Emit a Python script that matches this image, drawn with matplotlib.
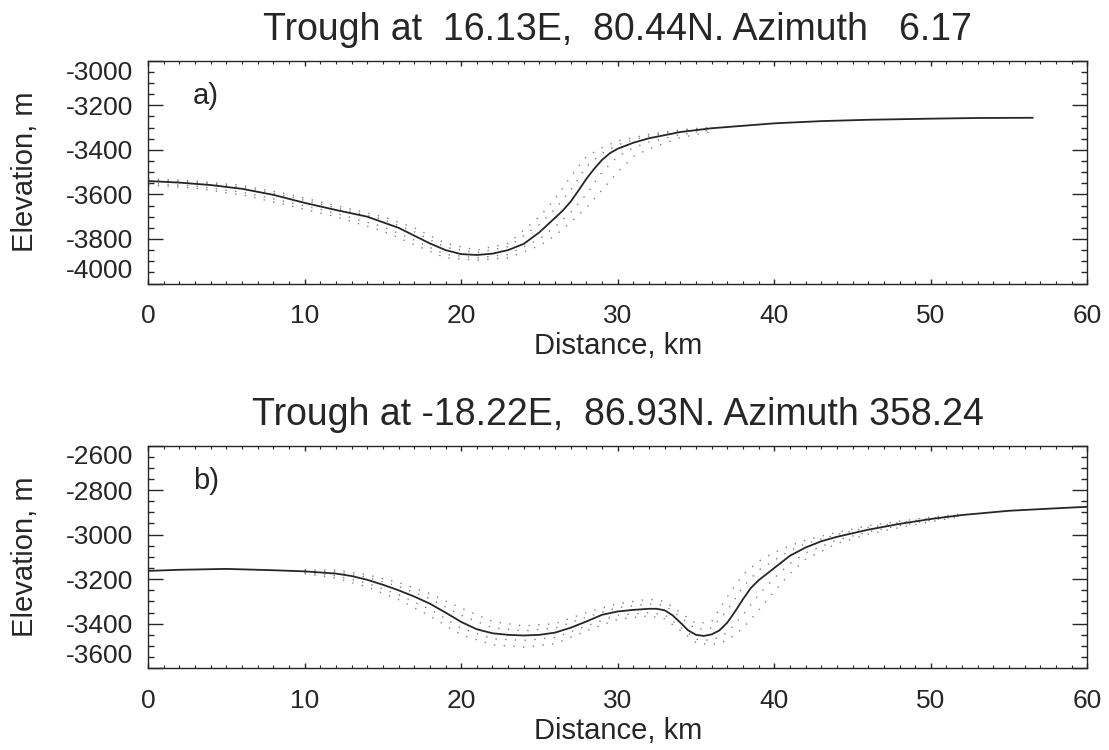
import matplotlib
matplotlib.use("Agg")
import matplotlib.pyplot as plt
from matplotlib.ticker import MultipleLocator

plt.rcParams['font.family'] = ['Liberation Sans', 'DejaVu Sans']
plt.rcParams['axes.unicode_minus'] = False

# panel a) trough at 16.13E, 80.44N -- central profile
dist_a = [0, 2, 4, 6, 8, 10, 12, 14, 16, 17, 18, 19, 20, 21, 22, 23, 24, 25, 26, 26.5,
          27, 27.5, 28, 28.5, 29, 29.5, 30, 31, 32, 34, 36, 38, 40, 43, 46, 50, 53, 56.5]
elev_a = [-3540, -3547, -3558, -3575, -3602, -3638, -3670, -3700, -3750, -3785, -3820,
          -3850, -3868, -3872, -3866, -3850, -3822, -3770, -3705, -3672,
          -3632, -3582, -3530, -3485, -3445, -3415, -3395, -3368, -3348, -3320, -3303,
          -3292, -3281, -3271, -3265, -3260, -3257, -3256]

# neighbouring parallel profiles (dotted)
dist_a_side = [0, 3, 6, 9, 12, 15, 17, 19, 21, 23, 25, 26, 27, 28, 29, 30, 31, 32, 34, 36]
side_a1 = [-3530, -3540, -3560, -3600, -3650, -3700, -3750, -3820, -3850, -3820, -3700,
           -3620, -3520, -3430, -3390, -3360, -3345, -3330, -3310, -3298]
side_a2 = [-3536, -3546, -3568, -3610, -3660, -3712, -3768, -3838, -3862, -3835, -3735,
           -3665, -3580, -3475, -3415, -3378, -3355, -3338, -3315, -3300]
side_a3 = [-3550, -3562, -3590, -3635, -3685, -3745, -3805, -3870, -3885, -3870, -3800,
           -3745, -3680, -3600, -3500, -3430, -3390, -3365, -3332, -3310]
side_a4 = [-3558, -3572, -3602, -3650, -3700, -3765, -3825, -3885, -3895, -3885, -3830,
           -3785, -3725, -3660, -3580, -3500, -3430, -3395, -3345, -3318]

# panel b) trough at -18.22E, 86.93N -- central profile
dist_b = [0, 2, 5, 8, 10, 12, 13, 14, 15, 16, 17, 18, 19, 20, 21, 22, 23, 24, 25, 26, 27,
          28, 29, 30, 31, 32, 32.5, 33, 33.5, 34, 34.5, 35, 35.5, 36, 36.5, 37, 37.5, 38,
          38.5, 39, 40, 41, 42, 43, 44, 46, 48, 50, 52, 55, 58, 60]
elev_b = [-3163, -3158, -3154, -3160, -3165, -3175, -3186, -3203, -3225, -3250, -3278,
          -3310, -3350, -3392, -3425, -3443, -3450, -3453, -3450, -3440, -3418, -3390,
          -3360, -3345, -3338, -3333, -3333, -3340, -3362, -3395, -3430, -3450, -3455,
          -3448, -3430, -3395, -3345, -3290, -3240, -3205, -3150, -3095, -3058, -3030,
          -3010, -2978, -2952, -2930, -2912, -2893, -2882, -2875]

dist_b_side = [10, 12, 14, 16, 18, 20, 22, 24, 26, 28, 30, 32, 33, 34, 35, 36, 37, 38, 39,
               40, 41, 42, 44, 46, 48, 50, 52]
side_b1 = [-3158, -3160, -3180, -3215, -3265, -3330, -3390, -3410, -3400, -3350, -3310,
           -3290, -3300, -3350, -3400, -3390, -3280, -3180, -3120, -3080, -3050, -3025,
           -2990, -2960, -2940, -2922, -2908]
side_b2 = [-3162, -3168, -3192, -3232, -3288, -3362, -3418, -3432, -3420, -3370, -3328,
           -3312, -3318, -3370, -3425, -3420, -3340, -3235, -3160, -3115, -3072, -3040,
           -3000, -2968, -2946, -2926, -2910]
side_b3 = [-3170, -3185, -3218, -3270, -3335, -3420, -3468, -3475, -3462, -3410, -3362,
           -3350, -3360, -3415, -3470, -3475, -3440, -3360, -3270, -3195, -3130, -3082,
           -3025, -2988, -2960, -2936, -2915]
side_b4 = [-3175, -3195, -3235, -3292, -3365, -3450, -3495, -3505, -3490, -3432, -3380,
           -3365, -3378, -3430, -3485, -3495, -3475, -3420, -3340, -3255, -3175, -3110,
           -3040, -2998, -2968, -2942, -2918]

titles = ["Trough at  16.13E,  80.44N. Azimuth   6.17",
          "Trough at -18.22E,  86.93N. Azimuth 358.24"]
panel_tags = ["a)", "b)"]
yticks_a = [-4000, -3800, -3600, -3400, -3200, -3000]
yticks_b = [-3600, -3400, -3200, -3000, -2800, -2600]
xticks = [0, 10, 20, 30, 40, 50, 60]

ink = '#262626'

fig = plt.figure(figsize=(11.09, 7.5), dpi=100)
ax_a = fig.add_axes([0.1335, 0.622, 0.847, 0.297])
ax_b = fig.add_axes([0.1335, 0.109, 0.847, 0.297])

panels = [
    (ax_a, dist_a, elev_a, dist_a_side, [side_a1, side_a2, side_a3, side_a4], yticks_a),
    (ax_b, dist_b, elev_b, dist_b_side, [side_b1, side_b2, side_b3, side_b4], yticks_b),
]

for i, (ax, d, e, ds, sides, yt) in enumerate(panels):
    for s in sides:
        ax.plot(ds, s, linestyle=(0, (1, 6)), color='#808080', linewidth=1.0)
    ax.plot(d, e, color=ink, linewidth=1.3)

    ax.set_xlim(xticks[0], xticks[-1])
    ax.set_ylim(yt[0], yt[-1])
    ax.set_xticks(xticks)
    ax.set_yticks(yt)
    ax.xaxis.set_minor_locator(MultipleLocator(1))
    ax.yaxis.set_minor_locator(MultipleLocator(50))
    ax.tick_params(axis='both', which='both', direction='in', top=True, right=True,
                   colors=ink, labelsize=19)
    ax.tick_params(axis='y', which='major', length=11, width=1, pad=11)
    ax.tick_params(axis='y', which='minor', length=4.5, width=1)
    ax.tick_params(axis='x', which='major', length=3.5, width=1, pad=15)
    ax.tick_params(axis='x', which='minor', length=2, width=0.8)
    for sp in ax.spines.values():
        sp.set_color(ink)
        sp.set_linewidth(1)

    ax.set_title(titles[i], fontsize=27, color=ink, pad=15)
    ax.set_xlabel("Distance, km", fontsize=21, color=ink, labelpad=3)
    ax.set_ylabel("Elevation, m", fontsize=21, color=ink, labelpad=19)
    ax.text(0.048, 0.84, panel_tags[i], transform=ax.transAxes, fontsize=21,
            color=ink, ha='left', va='center')

    # end labels sit just inside the frame, as in the original plot
    ticks = ax.yaxis.get_major_ticks()
    ticks[0].label1.set_va('bottom')
    ticks[-1].label1.set_va('top')

fig.savefig("out.png", dpi=100)
